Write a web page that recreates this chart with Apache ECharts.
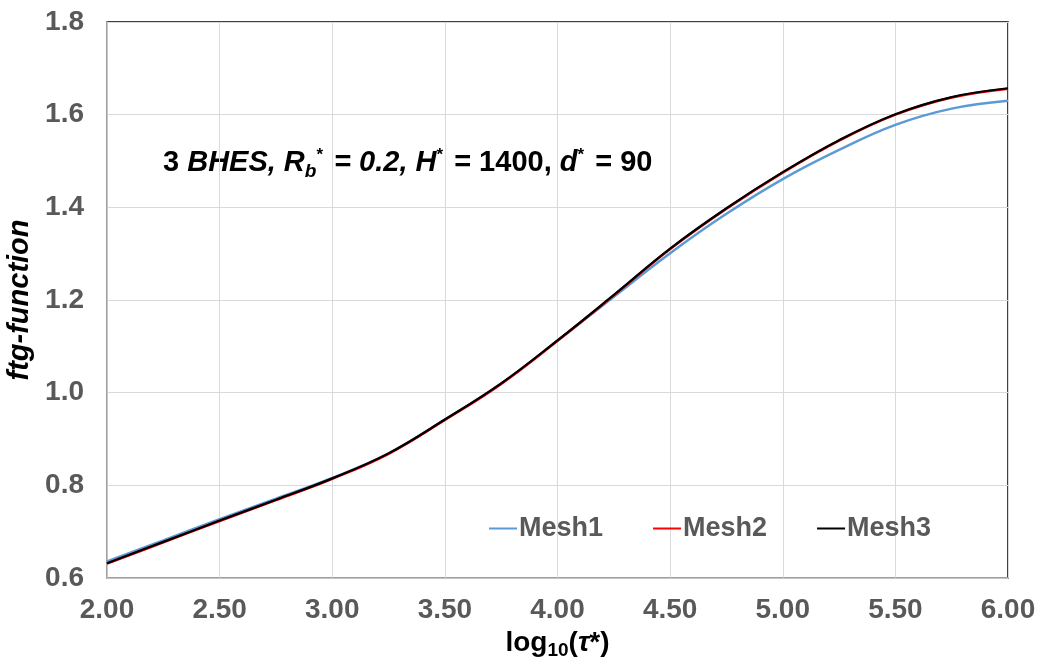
<!DOCTYPE html>
<html>
<head>
<meta charset="utf-8">
<script src="https://cdn.jsdelivr.net/npm/echarts@6/dist/echarts.min.js"></script>
<style>html,body{margin:0;padding:0;background:#fff}#c{width:1041px;height:664px}</style>
</head>
<body>
<div id="c"></div>
<script>
const xValues = [2.00, 2.25, 2.50, 2.75, 3.00, 3.25, 3.50, 3.75, 4.00, 4.25, 4.50, 4.75, 5.00, 5.25, 5.50, 5.75, 6.00];
const mesh1 = [0.636, 0.681, 0.727, 0.771, 0.816, 0.869, 0.942, 1.020, 1.112, 1.207, 1.301, 1.386, 1.461, 1.524, 1.578, 1.613, 1.630];
const mesh2 = [0.631, 0.677, 0.723, 0.768, 0.814, 0.868, 0.941, 1.019, 1.112, 1.210, 1.310, 1.397, 1.475, 1.544, 1.600, 1.637, 1.656];
const mesh3 = [0.632, 0.678, 0.724, 0.769, 0.815, 0.869, 0.942, 1.020, 1.113, 1.211, 1.311, 1.398, 1.476, 1.545, 1.601, 1.638, 1.657];
const seriesNames = ['Mesh1', 'Mesh2', 'Mesh3'];
const seriesColors = ['#5b9bd5', '#ff0000', '#000000'];

const chart = echarts.init(document.getElementById('c'));
const FONT = '"Liberation Sans", Arial, sans-serif';
const pairs = arr => xValues.map((x, i) => [x, arr[i]]);
const data = [mesh1, mesh2, mesh3];

chart.setOption({
  animation: false,
  grid: { left: 107, top: 22, right: 33, bottom: 86, show: true, borderColor: '#000', borderWidth: 1.5, backgroundColor: '#fff', containLabel: false, outerBoundsMode: 'none' },
  legend: {
    left: 489, top: 515, padding: 0, itemWidth: 28, itemHeight: 2, itemGap: 50, icon: 'rect',
    data: seriesNames,
    textStyle: { fontFamily: FONT, fontSize: 27, fontWeight: 'bold', color: '#595959', padding: [0, 0, 0, -3] }
  },
  xAxis: {
    type: 'value', min: 2, max: 6, interval: 0.5,
    axisLine: { show: true, onZero: false, lineStyle: { color: '#bfbfbf', width: 1.5 } },
    axisTick: { show: false },
    splitLine: { show: true, lineStyle: { color: '#d9d9d9', width: 1 } },
    axisLabel: { formatter: v => v.toFixed(2), fontFamily: FONT, fontSize: 28, fontWeight: 'bold', color: '#595959', margin: 18 },
    name: '{a|log}{s|10}{a|(}{i|τ}{a|*)}',
    nameLocation: 'middle', nameGap: 40,
    nameTextStyle: {
      rich: {
        a: { fontFamily: FONT, fontSize: 28, fontWeight: 'bold', color: '#000' },
        s: { fontFamily: FONT, fontSize: 19, fontWeight: 'bold', color: '#000', verticalAlign: 'bottom', padding: [15, 0, 0, 0] },
        i: { fontFamily: FONT, fontSize: 28, fontWeight: 'bold', fontStyle: 'italic', color: '#000' }
      }
    }
  },
  yAxis: {
    type: 'value', min: 0.6, max: 1.8, interval: 0.2,
    axisLine: { show: true, lineStyle: { color: '#bfbfbf', width: 1.5 } },
    axisTick: { show: false },
    splitLine: { show: true, lineStyle: { color: '#d9d9d9', width: 1 } },
    axisLabel: { formatter: v => v.toFixed(1), fontFamily: FONT, fontSize: 28, fontWeight: 'bold', color: '#595959', margin: 23 },
    name: 'ftg-function', nameLocation: 'middle', nameGap: 72,
    nameTextStyle: { fontFamily: FONT, fontSize: 29, fontWeight: 'bold', fontStyle: 'italic', color: '#000' }
  },
  series: seriesNames.map((n, k) => ({
    name: n, type: 'line', smooth: 0.4, showSymbol: false, symbol: 'none',
    data: pairs(data[k]), z: 2 + k,
    lineStyle: { color: seriesColors[k], width: k === 2 ? 2.2 : 2.5 },
    itemStyle: { color: seriesColors[k] }
  })),
  graphic: [{
    type: 'text', left: 163, top: 147,
    style: {
      text: '{n|3 }{i|BHES, R}{sb|b}{sp|*}{i| = 0.2, H}{sp|*}{n| = 1400, }{i|d}{sp|*}{n| = 90}',
      rich: {
        n: { fontFamily: FONT, fontSize: 29, fontWeight: 'bold', fill: '#000' },
        i: { fontFamily: FONT, fontSize: 29, fontWeight: 'bold', fontStyle: 'italic', fill: '#000' },
        sb: { fontFamily: FONT, fontSize: 19, fontWeight: 'bold', fontStyle: 'italic', fill: '#000', padding: [17, 0, 0, 0] },
        sp: { fontFamily: FONT, fontSize: 17, fontWeight: 'bold', fill: '#000', padding: [0, 3, 15, 0] }
      }
    }
  }]
});
</script>
</body>
</html>
